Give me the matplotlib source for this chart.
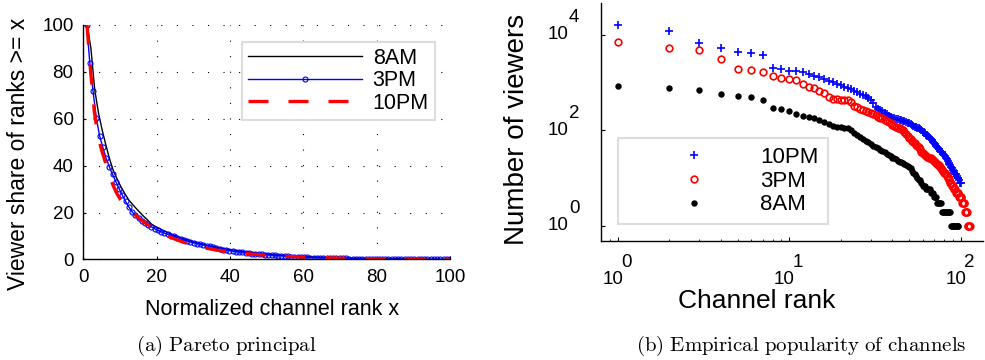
import numpy as np
import matplotlib.pyplot as plt
from matplotlib.ticker import LogLocator, NullFormatter, NullLocator

plt.rcParams['font.family'] = ['Liberation Sans', 'DejaVu Sans']
plt.rcParams['mathtext.fontset'] = 'cm'

# (a) viewer share of ranks >= x, one value per channel rank
share_8am = [100, 90, 72.5, 62.5, 55, 48.5, 42.5, 37.5, 34, 30.8,
             28, 25.4, 23.5, 21.7, 20, 18.3, 16.8, 15.1, 14.1, 13.3,
             12.5, 11.7, 11.0, 10.3, 9.7, 9.1, 8.6, 8.1, 7.6, 7.1,
             6.7, 6.3, 5.9, 5.6, 5.3, 5.0, 4.7, 4.4, 4.15, 3.9,
             3.65, 3.45, 3.25, 3.05, 2.85, 2.7, 2.55, 2.4, 2.25, 2.1,
             1.95, 1.85, 1.75, 1.65, 1.55, 1.45, 1.35, 1.27, 1.2, 1.13,
             1.06, 1.0, 0.94, 0.88, 0.82, 0.77, 0.72, 0.67, 0.62, 0.58,
             0.54, 0.5, 0.46, 0.43, 0.4, 0.37, 0.34, 0.31, 0.29, 0.27,
             0.25, 0.23, 0.21, 0.19, 0.17, 0.15, 0.13, 0.12, 0.11, 0.1,
             0.09, 0.08, 0.07, 0.05, 0.04, 0.03, 0.01]
share_3pm = [100, 83.8, 71.6, 60.3, 52.7, 47.8, 43.3, 39.5, 36.2, 33.2,
             30.2, 27.4, 24.8, 22.4, 20.4, 18.8, 17.5, 16.5, 15.6, 14.8,
             13.9, 13.1, 12.4, 11.8, 11.2, 10.7, 10.2, 9.8, 9.3, 8.8,
             8.3, 7.9, 7.5, 7.1, 6.8, 6.5, 6.2, 5.9, 5.6, 5.3,
             4.8, 4.5, 4.2, 4.0, 3.8, 3.6, 3.4, 3.2, 3.0, 2.85,
             2.7, 2.55, 2.4, 2.28, 2.15, 2.03, 1.92, 1.82, 1.72, 1.63,
             1.54, 1.45, 1.37, 1.26, 1.18, 1.1, 1.03, 0.96, 0.9, 0.84,
             0.78, 0.74, 0.7, 0.66, 0.62, 0.58, 0.55, 0.52, 0.49, 0.46,
             0.43, 0.4, 0.38, 0.36, 0.34, 0.32, 0.3, 0.28, 0.26, 0.24,
             0.22, 0.21, 0.2, 0.19, 0.18, 0.17, 0.16, 0.15, 0.14, 0.13,
             0.12, 0.11, 0.1, 0.09, 0.08, 0.07, 0.06, 0.05, 0.04, 0.03,
             0.02, 0.01, 0.0]
share_10pm = [100, 80, 63, 52.5, 46.5, 41.5, 36.5, 32, 28.5, 25.8,
              23.6, 21.9, 20.6, 19.2, 17.8, 16.5, 15.4, 14.4, 13.4, 12.4,
              11.5, 10.7, 10.0, 9.3, 8.7, 8.1, 7.5, 7.0, 6.5, 6.1,
              5.7, 5.35, 5.0, 4.7, 4.4, 4.1, 3.85, 3.6, 3.4, 3.2,
              3.0, 2.85, 2.7, 2.55, 2.4, 2.28, 2.16, 2.05, 1.94, 1.84,
              1.74, 1.64, 1.55, 1.46, 1.38, 1.3, 1.23, 1.16, 1.09, 1.03,
              0.97, 0.92, 0.87, 0.82, 0.77, 0.73, 0.69, 0.65, 0.61, 0.57,
              0.54, 0.51, 0.48, 0.45, 0.42, 0.39, 0.37, 0.35, 0.33, 0.31,
              0.29, 0.27, 0.25, 0.23, 0.21, 0.19, 0.18, 0.17, 0.16, 0.15,
              0.14, 0.13, 0.12, 0.11, 0.1, 0.09, 0.08, 0.07, 0.06, 0.05]

# (b) number of viewers per channel rank
viewers_10pm = [16200, 12300, 6900, 5400, 4300, 4100, 3800, 2000, 1900, 1780,
                1740, 1660, 1550, 1410, 1290, 1175, 1100, 1020, 955, 890,
                830, 775, 725, 675, 630, 590, 550, 515, 480, 437,
                380, 316, 288, 270, 251, 234, 219, 204, 190, 182,
                178, 174, 170, 166, 162, 158, 155, 151, 146, 141,
                135, 132, 126, 120, 117, 112, 110, 105, 100, 95,
                91, 87, 81, 78, 72, 69, 65, 62, 58, 54,
                51, 48, 46, 43, 41, 38, 36, 35, 32, 31,
                29, 27, 25, 23, 21, 20, 19, 17, 16, 15,
                14, 13, 12, 12, 11, 10, 10, 9, 8, 8]
viewers_3pm = [7250, 5250, 4900, 3160, 1950, 1860, 1700, 1350, 1260, 1200,
               1120, 930, 830, 760, 675, 615, 500, 457, 447, 437,
               437, 427, 398, 331, 309, 288, 269, 251, 240, 229,
               219, 209, 195, 186, 178, 166, 158, 148, 141, 132,
               126, 120, 115, 110, 105, 100, 93, 85, 76, 69,
               65, 60, 58, 54, 50, 47, 44, 40, 36, 34,
               32, 30, 29, 28, 27, 26, 26, 25, 24, 23,
               22, 21, 20, 19, 19, 17, 16, 15, 14, 13,
               13, 12, 11, 10, 10, 9, 8, 8, 7, 7,
               6, 6, 6, 5, 5, 5, 5, 4, 4, 4,
               4, 3, 3, 3, 3, 2, 2, 2, 2, 1,
               1, 1, 1]
viewers_8am = [850, 760, 710, 575, 525, 490, 437, 295, 282, 257,
               224, 204, 190, 178, 162, 148, 135, 126, 120, 117,
               115, 110, 100, 89, 81, 74, 66, 60, 56, 52,
               48, 46, 42, 39, 37, 35, 32, 30, 29, 27,
               26, 25, 23, 22, 22, 21, 20, 19, 18, 17,
               16, 14, 13, 12, 11, 10, 9, 9, 8, 7,
               7, 7, 6, 6, 6, 6, 5, 5, 5, 4,
               4, 4, 3, 3, 3, 3, 3, 2, 2, 2,
               2, 2, 2, 2, 2, 2, 2, 1, 1, 1,
               1, 1, 1, 1, 1, 1, 1]

left_ticks = [0, 20, 40, 60, 80, 100]
log_xticks = [1, 10, 100]
log_yticks = [1, 100, 10000]


def norm_rank(vals):
    n = len(vals)
    return 100.0 * np.arange(1, n + 1) / n


fig = plt.figure(figsize=(9.85, 3.6), dpi=100)
ax1 = fig.add_axes([0.0846, 0.2792, 0.3723, 0.6522])
ax2 = fig.add_axes([0.6102, 0.3306, 0.3878, 0.662])

# ---- (a) Pareto principal
ax1.plot(norm_rank(share_8am), share_8am, color='k', lw=1.0, label='8AM')
ax1.plot(norm_rank(share_3pm), share_3pm, color='b', lw=1.0, marker='o', ms=3.6,
         mfc='none', mec='b', mew=0.8, label='3PM')
ax1.plot(norm_rank(share_10pm), share_10pm, color='r', lw=2.4, ls=(0, (6, 6)),
         label='10PM')
ax1.set_xlim(0, 100)
ax1.set_ylim(0, 100)
ax1.set_xticks(left_ticks)
ax1.set_yticks(left_ticks)
ax1.tick_params(direction='in', length=2.5, width=0.8, labelsize=13.5, pad=7)
ax1.grid(True, color='k', lw=0.8, ls=(0, (1, 13)))
for s in ['top', 'right']:
    ax1.spines[s].set_visible(False)
for s in ['left', 'bottom']:
    ax1.spines[s].set_linewidth(1.0)
ax1.set_xlabel('Normalized channel rank x', fontsize=15.5, va='center')
ax1.xaxis.set_label_coords(0.515, -0.215)
ax1.set_ylabel('Viewer share of ranks >= x', fontsize=16.5, va='center')
ax1.yaxis.set_label_coords(-0.178, 0.449)
leg1 = ax1.legend(loc='upper left', bbox_to_anchor=(0.432, 0.928), borderaxespad=0,
                  fontsize=15.5, handlelength=5.3, handletextpad=0.5, borderpad=0.28,
                  labelspacing=0.07, fancybox=False, framealpha=1)
leg1.get_frame().set_edgecolor('#dddddd')
leg1.get_frame().set_linewidth(1.5)

# ---- (b) Empirical popularity of channels
ax2.plot(np.arange(1, len(viewers_10pm) + 1), viewers_10pm, ls='none', marker='+',
         ms=6.3, mew=1.2, color='b', label='10PM')
ax2.plot(np.arange(1, len(viewers_3pm) + 1), viewers_3pm, ls='none', marker='o',
         ms=4.8, mew=1.2, mfc='none', mec='r', label='3PM')
ax2.plot(np.arange(1, len(viewers_8am) + 1), viewers_8am, ls='none', marker='o',
         ms=4.6, mew=0, color='k', label='8AM')
ax2.set_xscale('log')
ax2.set_yscale('log')
ax2.set_xlim(0.8, 135)
ax2.set_ylim(0.485, 47400)
ax2.set_xticks(log_xticks)
ax2.set_yticks(log_yticks)
ax2.xaxis.set_minor_locator(LogLocator(base=10, subs=np.arange(2, 10)))
ax2.xaxis.set_minor_formatter(NullFormatter())
ax2.yaxis.set_minor_locator(NullLocator())
ax2.tick_params(which='major', direction='in', length=3, width=0.8,
                labelbottom=False, labelleft=False)
ax2.tick_params(which='minor', direction='in', length=1.5, width=0.6)
for s in ['top', 'right']:
    ax2.spines[s].set_visible(False)
for s in ['left', 'bottom']:
    ax2.spines[s].set_linewidth(1.0)

for t in log_xticks:
    e = str(int(round(np.log10(t))))
    ax2.annotate('10', xy=(t, 0), xycoords=('data', 'axes fraction'), xytext=(-4.7, -39),
                 textcoords='offset pixels', ha='center', va='center', fontsize=13.5,
                 annotation_clip=False)
    ax2.annotate(e, xy=(t, 0), xycoords=('data', 'axes fraction'), xytext=(9, -22),
                 textcoords='offset pixels', ha='center', va='center', fontsize=13.5,
                 annotation_clip=False)
for t in log_yticks:
    e = str(int(round(np.log10(t))))
    ax2.annotate('10', xy=(0, t), xycoords=('axes fraction', 'data'), xytext=(-33, 0),
                 textcoords='offset pixels', ha='right', va='center', fontsize=13.5,
                 annotation_clip=False)
    ax2.annotate(e, xy=(0, t), xycoords=('axes fraction', 'data'), xytext=(-32, 17),
                 textcoords='offset pixels', ha='left', va='center', fontsize=13.5,
                 annotation_clip=False)

ax2.set_xlabel('Channel rank', fontsize=19, va='center')
ax2.xaxis.set_label_coords(0.408, -0.252)
ax2.set_ylabel('Number of viewers', fontsize=20, va='center')
ax2.yaxis.set_label_coords(-0.22, 0.47)
leg2 = ax2.legend(loc='upper left', bbox_to_anchor=(0.0445, 0.433), borderaxespad=0,
                  fontsize=16, numpoints=1, handlelength=6.0, handletextpad=0.0,
                  borderpad=0.4, labelspacing=0.13, fancybox=False, framealpha=1)
leg2.get_frame().set_edgecolor('#dddddd')
leg2.get_frame().set_linewidth(1.5)

# captions
fig.text(226 / 985, 1 - 346 / 360, r'$\mathrm{(a)\ Pareto\ principal}$',
         ha='center', va='center', fontsize=15)
fig.text(801 / 985, 1 - 346 / 360, r'$\mathrm{(b)\ Empirical\ popularity\ of\ channels}$',
         ha='center', va='center', fontsize=15)

fig.savefig('out.png', dpi=100)
